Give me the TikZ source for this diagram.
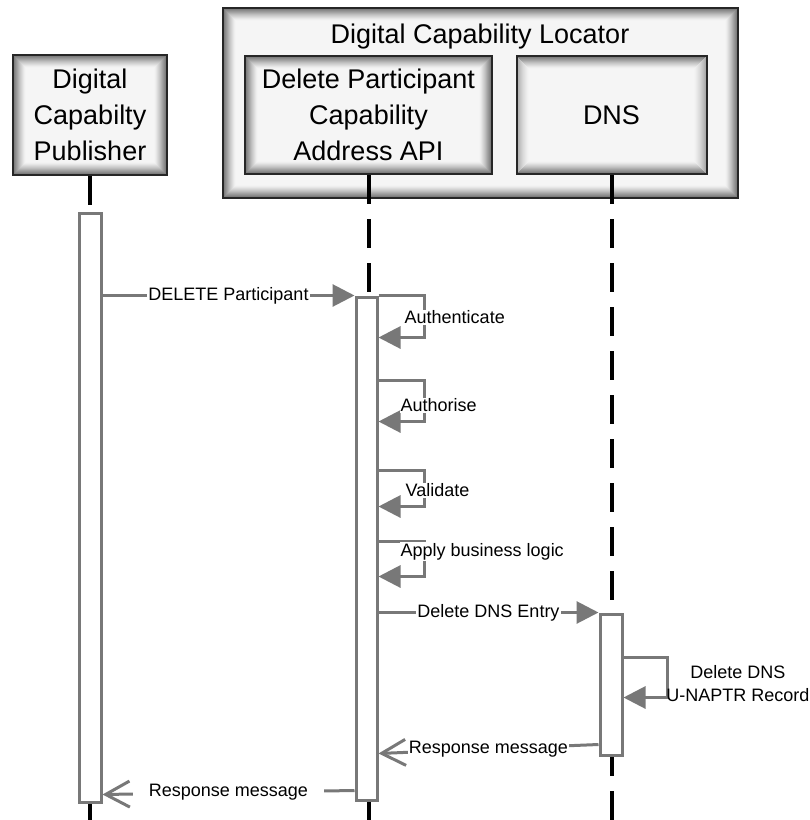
\documentclass[tikz,border=0pt]{standalone}
\usepackage{fontspec}
\setmainfont{Liberation Sans}
\usetikzlibrary{arrows.meta, calc}
\definecolor{msggray}{RGB}{120,120,120}

\tikzset{
  glowbox/.style={draw=black!85, line width=2pt, fill=black!4, inner sep=0pt,
    font=\fontsize{27}{36}\selectfont, align=center,
    path picture={
      \foreach \ins [evaluate=\ins as \op using 0.3*((13-\ins)/12)^1.5] in {1,...,12}
        \draw[black, opacity=\op, line width=1.2pt]
          ([shift={(\ins pt,-\ins pt)}]path picture bounding box.north west) rectangle
          ([shift={(-\ins pt,\ins pt)}]path picture bounding box.south east);
    }},
  lifeline/.style={line width=4pt, dash pattern=on 29pt off 15pt},
  actbar/.style={draw=msggray, line width=3pt, fill=white, minimum width=22pt, inner sep=0pt},
  msg/.style={draw=msggray, line width=3pt},
  syncmsg/.style={msg, -{Triangle[length=22pt,width=22pt]}},
  retmsg/.style={msg, -{Straight Barb[length=24pt,width=26pt]}},
  lbl/.style={fill=white, inner sep=1pt, font=\fontsize{18}{23}\selectfont}
}

\begin{document}
\begin{tikzpicture}[x=1pt, y=-1pt]
\useasboundingbox (0,0) rectangle (810,820);

% participants
\node[glowbox, minimum width=154pt, minimum height=120pt] at (90, 115) (pub)
    {Digital\\Capabilty\\Publisher};
\node[glowbox, minimum width=515pt, minimum height=190pt] at (480.5, 103) (loc) {};
\node[font=\fontsize{27}{36}\selectfont] at (480, 37) (loctitle) {Digital Capability Locator};
\node[glowbox, minimum width=247pt, minimum height=118pt] at (368.5, 115) (api)
    {Delete Participant\\Capability\\Address API};
\node[glowbox, minimum width=190pt, minimum height=118pt] at (611.5, 115) (dns) {DNS};

% lifelines
\coordinate (pubend) at (90, 820);
\coordinate (apiend) at (368.5, 820);
\coordinate (dnsend) at (611.5, 820);
\draw[lifeline] (pub.south) -- (pubend);
\draw[lifeline] (api.south) -- (apiend);
\draw[lifeline] (dns.south) -- (dnsend);

% activations
\node[actbar, minimum height=589pt] at (90, 507.5) (pubact) {};
\node[actbar, minimum width=21pt, minimum height=503pt] at (366.5, 548.5) (apiact) {};
\node[actbar, minimum height=141pt] at (611, 684.5) (dnsact) {};

% messages
\path (pubact.east |- apiact.north) edge[syncmsg] node[lbl] {DELETE Participant} (apiact.north west);

\draw[syncmsg] (apiact.north east) -- ++(46,0) -- ++(0,42) -- ++(-46,0);
\node[lbl, anchor=west] at ($(apiact.north east)+(25,22)$) (authn) {Authenticate};

\draw[syncmsg] ($(apiact.north east)+(0,85)$) -- ++(46,0) -- ++(0,41) -- ++(-46,0);
\node[lbl, anchor=west] at ($(apiact.north east)+(21,110)$) (authz) {Authorise};

\draw[syncmsg] ($(apiact.north east)+(0,175)$) -- ++(46,0) -- ++(0,36) -- ++(-46,0);
\node[lbl, anchor=west] at ($(apiact.north east)+(26,195)$) (valid) {Validate};

\draw[syncmsg] ($(apiact.north east)+(0,246)$) -- ++(46,0) -- ++(0,35) -- ++(-46,0);
\node[lbl, anchor=west] at ($(apiact.north east)+(21,256)$) (logic) {Apply business logic};

\path (apiact.east |- dnsact.north) edge[syncmsg] node[lbl] {Delete DNS Entry} (dnsact.north west);

\draw[syncmsg] ($(dnsact.north east)+(0,45)$) -- ++(44,0) -- ++(0,40) -- ++(-44,0);
\node[lbl, fill=none, align=center] at (738, 684) (dnsdel) {Delete DNS\\U-NAPTR Record};

\path ($(dnsact.south west)+(0,-12)$) edge[retmsg] node[lbl] {Response message}
    ($(apiact.east |- dnsact.south)+(0,-3)$);
\path ($(apiact.south west)+(0,-11)$) edge[retmsg] node[lbl, inner xsep=16pt] {Response message}
    ($(pubact.east |- apiact.south)+(0,-7)$);
\end{tikzpicture}
\end{document}
